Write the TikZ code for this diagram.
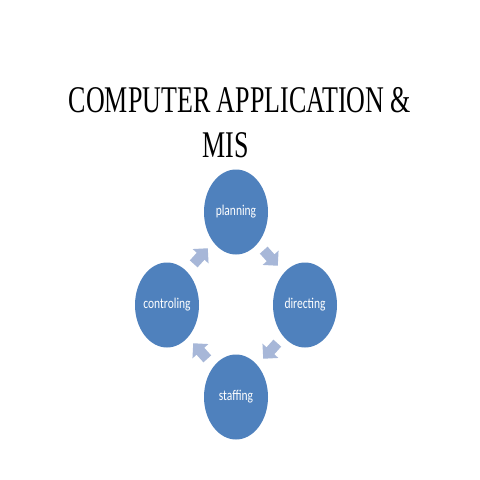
\documentclass[tikz,border=0pt]{standalone}
\usepackage{fontspec}
\newfontfamily\calibri{Carlito}
\newfontfamily\titlefont{Liberation Serif}
\usetikzlibrary{shapes.geometric,shapes.arrows}
\definecolor{circblue}{HTML}{4F81BD}
\definecolor{arrowblue}{HTML}{A7B7D8}
\tikzset{
  stage/.style={ellipse, fill=circblue, draw=none, minimum width=64pt, minimum height=85pt, inner sep=0pt},
  stagetext/.style={font=\calibri\fontsize{11.5}{13}\selectfont, text=white, yscale=1.3},
  cyclearrow/.style={single arrow, fill=arrowblue, draw=none, minimum height=21pt, inner xsep=0pt, inner ysep=5pt, single arrow head extend=5.5pt, single arrow tip angle=90},
  titletext/.style={font=\titlefont\fontsize{26}{30}\selectfont, text=black, yscale=1.45, inner sep=0pt, anchor=base}
}
\begin{document}
\begin{tikzpicture}[x=1pt,y=-1pt]
\useasboundingbox (0,0) rectangle (480,480);
\fill[white] (0,0) rectangle (480,480);
\node[titletext] (t1) at (240,112) {COMPUTER APPLICATION \&};
\node[titletext] (t2) at (226,157) {MIS};
\node[stage] (plan) at (236,212) {};
\node[stage] (dir) at (305,305) {};
\node[stage] (staff) at (236,397) {};
\node[stage] (ctrl) at (167,305) {};
\node[stagetext] (planT) at (plan) {planning};
\node[stagetext] (dirT) at (dir) {directing};
\node[stagetext] (staffT) at (staff) {staffing};
\node[stagetext] (ctrlT) at (ctrl) {controling};
\node[cyclearrow, rotate=48] (a1) at (199,258) {};
\node[cyclearrow, rotate=-48] (a2) at (269,256) {};
\node[cyclearrow, rotate=-132] (a3) at (272,349) {};
\node[cyclearrow, rotate=132] (a4) at (202,353) {};
\end{tikzpicture}
\end{document}
